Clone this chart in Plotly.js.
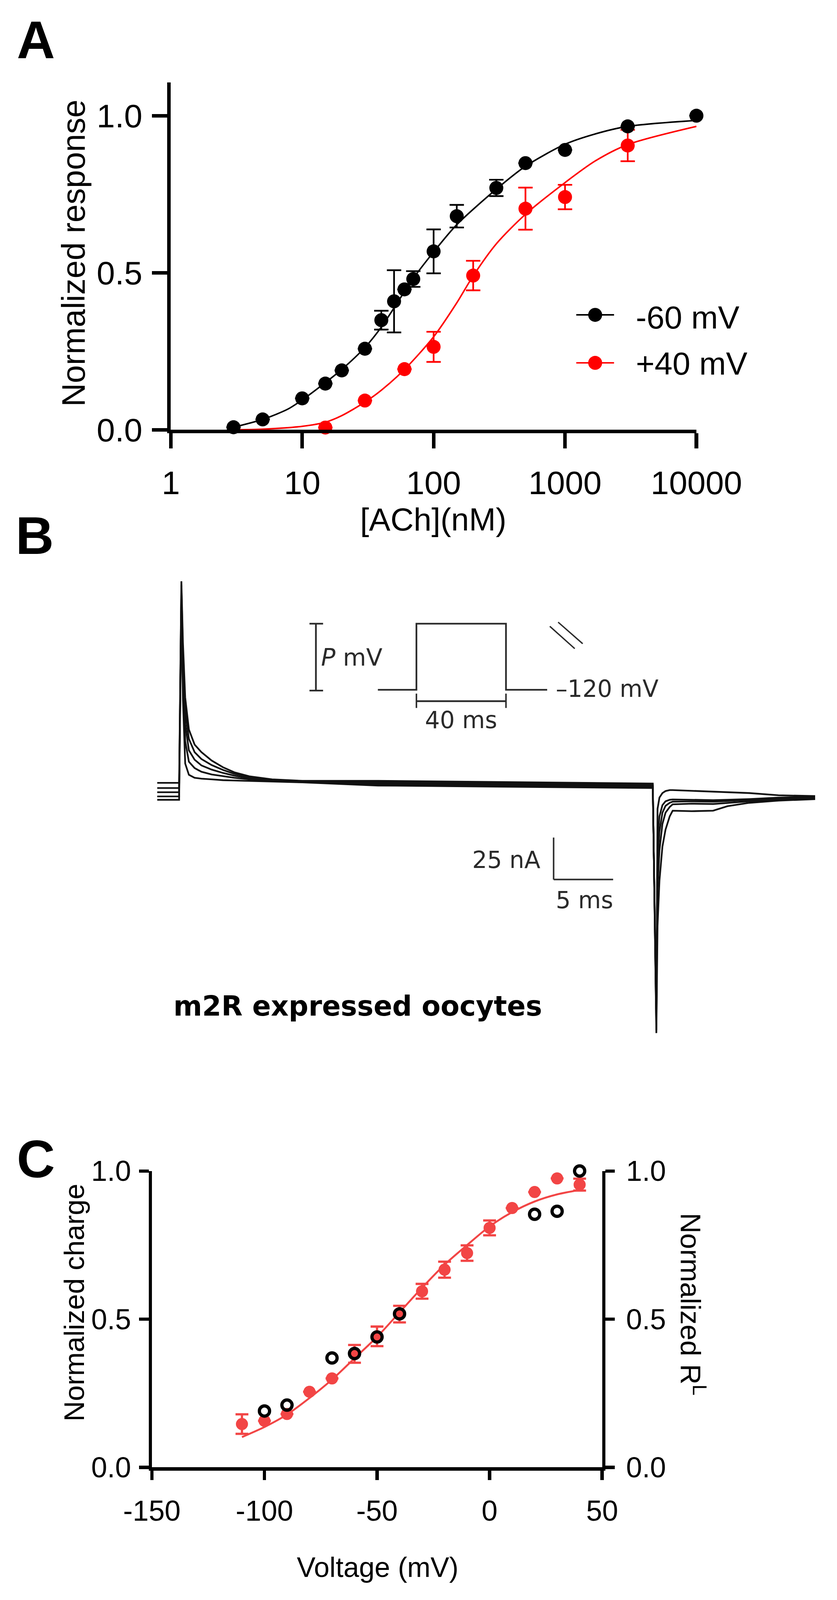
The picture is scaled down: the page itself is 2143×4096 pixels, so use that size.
<!DOCTYPE html>
<html><head><meta charset="utf-8">
<script src="https://cdn.plot.ly/plotly-3.0.1.min.js"></script>
<style>html,body{margin:0;padding:0;background:#fff;}#chart{width:2143px;height:4096px;}</style>
</head><body><div id="chart"></div>
<script>
// ================= DATA =================
// Panel A : concentration-response
const achConcM60 = [3, 5, 10, 15, 20, 30, 40, 50, 60, 70, 100, 150, 300, 500, 1000, 3000, 10000];
const respM60    = [0.008, 0.033, 0.100, 0.147, 0.189, 0.258, 0.349, 0.409, 0.447, 0.480, 0.568, 0.680, 0.770, 0.849, 0.891, 0.966, 1.000];
const errM60     = [null, null, null, null, null, null, 0.030, 0.099, null, 0.025, 0.070, 0.036, 0.026, null, null, null, null];
const achConcP40 = [3, 15, 30, 60, 100, 200, 500, 1000, 3000];
const respP40    = [-0.003, 0.007, 0.093, 0.193, 0.264, 0.491, 0.704, 0.741, 0.905];
const errP40     = [null, null, null, null, 0.048, 0.047, 0.067, 0.039, 0.050];
const fitConcM60 = [3, 5, 7.8, 10, 15, 20, 30, 40, 70, 100, 150, 300, 500, 1000, 1700, 3000, 10000];
const fitRespM60 = [0.008, 0.033, 0.066, 0.095, 0.150, 0.192, 0.262, 0.327, 0.482, 0.566, 0.653, 0.766, 0.839, 0.909, 0.942, 0.966, 0.985];
const fitConcP40 = [3, 5, 10, 15, 20, 30, 40, 60, 100, 150, 200, 300, 500, 1000, 1700, 3000, 10000];
const fitRespP40 = [0.000, 0.002, 0.011, 0.024, 0.045, 0.088, 0.126, 0.192, 0.296, 0.404, 0.490, 0.592, 0.686, 0.787, 0.856, 0.908, 0.966];
const seriesNamesA = ['-60 mV', '+40 mV'];
const xTickValsA = [1, 10, 100, 1000, 10000];
const xTickTextA = ['1', '10', '100', '1000', '10000'];
const yTickValsA = [0, 0.5, 1];
const yTickTextA = ['0.0', '0.5', '1.0'];

// Panel B : current traces (time in ms, current in nA)
const traceTimeMs = [-2.03, -0.19, 0, 0.13, 0.32, 0.63, 1.11, 1.68, 2.54, 3.49, 4.44, 5.71, 7.62, 10.16, 16.5, 26.0, 35.6, 39.6, 39.9, 40.0, 40.16, 40.41, 40.67, 41.02, 41.27, 42.86, 44.67, 45.87, 47.71, 50.16, 53.24];
const traceCurrent1 = [0.2, 0.2, 120.3, 83.8, 51.1, 32.0, 23.0, 18.5, 13.5, 9.5, 6.5, 4.1, 2.3, 1.4, 1.4, 0.7, 0.0, -0.2, -148.9, -85.1, -58.1, -37.8, -27.7, -19.8, -16.4, -16.7, -16.4, -13.7, -11.7, -10.4, -9.5];
const traceCurrent2 = [-2.9, -2.9, 118.0, 77.0, 43.2, 26.4, 18.5, 14.4, 10.8, 7.9, 5.6, 3.6, 2.0, 1.1, 0.7, 0.0, -0.7, -0.9, -147.1, -62.6, -40.1, -24.3, -17.6, -14.2, -12.6, -12.2, -12.4, -11.7, -10.8, -9.9, -9.0];
const traceCurrent3 = [-5.4, -5.4, 115.0, 70.3, 35.4, 19.6, 14.0, 10.6, 8.1, 6.1, 4.5, 2.9, 1.6, 0.9, 0.0, -0.7, -1.4, -1.6, -144.8, -46.8, -28.8, -17.6, -13.5, -11.7, -11.0, -10.8, -11.0, -10.6, -10.1, -9.2, -8.6];
const traceCurrent4 = [-7.9, -7.9, 112.0, 61.3, 25.2, 12.8, 9.0, 6.8, 5.2, 4.1, 3.2, 2.3, 1.4, 0.7, -0.7, -1.4, -2.0, -2.3, -141.4, -33.3, -19.8, -13.1, -10.8, -9.9, -9.7, -9.9, -10.1, -9.9, -9.5, -8.6, -8.1];
const traceCurrent5 = [-9.9, -9.9, 108.0, 50.0, 11.7, 5.0, 3.2, 2.7, 2.3, 1.8, 1.6, 1.4, 0.9, 0.5, -1.4, -2.0, -2.7, -2.9, -139.2, -15.3, -8.6, -5.9, -4.7, -4.1, -4.1, -4.5, -5.0, -5.4, -5.9, -7.2, -7.7];
const scaleBarCurrentNA = 25;
const scaleBarTimeMs = 5;

// Panel C : voltage dependence
const voltCharge = [-110, -100, -90, -80, -70, -60, -50, -40, -30, -20, -10, 0, 10, 20, 30, 40];
const normCharge = [0.146, 0.157, 0.180, 0.255, 0.300, 0.383, 0.442, 0.517, 0.594, 0.667, 0.723, 0.808, 0.875, 0.929, 0.975, 0.954];
const errCharge  = [0.033, null, null, null, null, 0.030, 0.033, 0.028, 0.025, 0.027, 0.026, 0.025, null, null, null, 0.020];
const voltRL = [-100, -90, -70, -60, -50, -40, 20, 30, 40];
const normRL = [0.190, 0.210, 0.369, 0.384, 0.440, 0.518, 0.854, 0.864, 1.000];
const fitVolt   = [-110, -100, -90, -80, -70, -60, -50, -40, -30, -20, -10, 0, 10, 20, 30, 40];
const fitCharge = [0.102, 0.136, 0.178, 0.234, 0.296, 0.368, 0.440, 0.523, 0.606, 0.684, 0.750, 0.813, 0.861, 0.897, 0.921, 0.936];
const xTickValsC = [-150, -100, -50, 0, 50];
const xTickTextC = ['-150', '-100', '-50', '0', '50'];
const yTickValsC = [0, 0.5, 1];
const yTickTextC = ['0.0', '0.5', '1.0'];

// ================= LAYOUT HELPERS =================
const W = 2215, H = 4233, S = 2143 / 2215;
const px = x => x / W;
const py = y => 1 - y / H;
const FONT = '"Liberation Sans", Arial, Helvetica, sans-serif';
const BFONT = '"DejaVu Sans", Verdana, sans-serif';
const RED_A = '#ff0000';
const RED_C = '#f24545';
const INK = '#2a2a2a';

function axis(extra) {
  return Object.assign({
    showline: true, linecolor: '#000', showgrid: false, zeroline: false,
    ticks: 'outside', tickcolor: '#000', fixedrange: true
  }, extra);
}
const axA = { linewidth: 9.5 * S, tickwidth: 9.5 * S, ticklen: 40 * S, tickfont: { family: FONT, size: 87 * S, color: '#000' } };
const axC = { linewidth: 8.7 * S, tickwidth: 8.7 * S, ticklen: 25 * S, tickfont: { family: FONT, size: 76 * S, color: '#000' } };

// ================= TRACES =================
const traces = [];
// Panel A
traces.push({ x: fitConcP40, y: fitRespP40, xaxis: 'x', yaxis: 'y', mode: 'lines', line: { color: RED_A, width: 4 * S, shape: 'spline', smoothing: 0.8 }, cliponaxis: false, showlegend: false, hoverinfo: 'skip' });
traces.push({ x: achConcP40, y: respP40, xaxis: 'x', yaxis: 'y', mode: 'markers', name: seriesNamesA[1],
  marker: { color: RED_A, size: 37 * S, line: { width: 0 } },
  error_y: { type: 'data', array: errP40, visible: true, color: RED_A, thickness: 4.5 * S, width: 19 * S }, cliponaxis: false, showlegend: false });
traces.push({ x: fitConcM60, y: fitRespM60, xaxis: 'x', yaxis: 'y', mode: 'lines', line: { color: '#000', width: 4 * S, shape: 'spline', smoothing: 0.8 }, cliponaxis: false, showlegend: false, hoverinfo: 'skip' });
traces.push({ x: achConcM60, y: respM60, xaxis: 'x', yaxis: 'y', mode: 'markers', name: seriesNamesA[0],
  marker: { color: '#000', size: 37 * S, line: { width: 0 } },
  error_y: { type: 'data', array: errM60, visible: true, color: '#000', thickness: 4.5 * S, width: 19 * S }, cliponaxis: false, showlegend: false });

// Panel B
[traceCurrent1, traceCurrent2, traceCurrent3, traceCurrent4, traceCurrent5].forEach(c => {
  traces.push({ x: traceTimeMs, y: c, xaxis: 'x2', yaxis: 'y2', mode: 'lines', line: { color: '#111', width: 4.5 * S }, cliponaxis: false, showlegend: false, hoverinfo: 'skip' });
});

// Panel C
traces.push({ x: fitVolt, y: fitCharge, xaxis: 'x3', yaxis: 'y3', mode: 'lines', line: { color: RED_C, width: 5 * S, shape: 'spline', smoothing: 0.8 }, cliponaxis: false, showlegend: false, hoverinfo: 'skip' });
traces.push({ x: voltCharge, y: normCharge, xaxis: 'x3', yaxis: 'y3', mode: 'markers', name: 'Normalized charge',
  marker: { color: RED_C, size: 32 * S, line: { width: 0 } },
  error_y: { type: 'data', array: errCharge, visible: true, color: RED_C, thickness: 6 * S, width: 17 * S }, cliponaxis: false, showlegend: false });
traces.push({ x: voltRL, y: normRL, xaxis: 'x3', yaxis: 'y4', mode: 'markers', name: 'Normalized RL',
  marker: { symbol: 'circle-open', color: '#000', size: 27 * S, line: { color: '#000', width: 8.5 * S } }, cliponaxis: false, showlegend: false });

// ================= SHAPES =================
const shapes = [];
function pline(x0, y0, x1, y1, color, width) {
  shapes.push({ type: 'line', xref: 'paper', yref: 'paper', x0: px(x0), y0: py(y0), x1: px(x1), y1: py(y1), line: { color: color, width: width * S } });
}
// Legend A (drawn manually)
pline(1525, 833, 1625, 833, '#000', 4);
pline(1525, 960, 1625, 960, RED_A, 4);
shapes.push({ type: 'circle', xref: 'paper', yref: 'paper', x0: px(1556.5), x1: px(1593.5), y0: py(851.5), y1: py(814.5), fillcolor: '#000', line: { width: 0 } });
shapes.push({ type: 'circle', xref: 'paper', yref: 'paper', x0: px(1556.5), x1: px(1593.5), y0: py(978.5), y1: py(941.5), fillcolor: RED_A, line: { width: 0 } });

// Panel B inset: voltage protocol
pline(836, 1650, 836, 1827, INK, 4.5);
pline(819, 1650, 855, 1650, INK, 4.5);
pline(819, 1827, 855, 1827, INK, 4.5);
shapes.push({ type: 'path', xref: 'paper', yref: 'paper',
  path: `M${px(1000)},${py(1825)} L${px(1102)},${py(1825)} L${px(1102)},${py(1650)} L${px(1339)},${py(1650)} L${px(1339)},${py(1825)} L${px(1448)},${py(1825)}`,
  line: { color: INK, width: 4.5 * S } });
pline(1102, 1855, 1339, 1855, INK, 4.5);
pline(1102, 1835, 1102, 1873, INK, 4);
pline(1339, 1835, 1339, 1873, INK, 4);
pline(1455, 1657, 1521, 1716, INK, 3.5);
pline(1477, 1646, 1542, 1703, INK, 3.5);
// Panel B scale bar (in data units)
const sbT0 = 31.27, sbI0 = -57.4;
shapes.push({ type: 'line', xref: 'x2', yref: 'y2', x0: sbT0, x1: sbT0, y0: sbI0, y1: sbI0 + scaleBarCurrentNA, line: { color: INK, width: 4 * S } });
shapes.push({ type: 'line', xref: 'x2', yref: 'y2', x0: sbT0, x1: sbT0 + scaleBarTimeMs, y0: sbI0, y1: sbI0, line: { color: INK, width: 4 * S } });

// ================= ANNOTATIONS =================
const annotations = [];
function ann(text, x, y, size, o) {
  annotations.push(Object.assign({ text: text, xref: 'paper', yref: 'paper', x: px(x), y: py(y), showarrow: false,
    xanchor: 'center', yanchor: 'middle', font: { family: FONT, size: size * S, color: '#000' } }, o || {}));
}
// panel letters
ann('<b>A</b>', 42, 105.5, 140, { xanchor: 'left' });
ann('<b>B</b>', 39, 1416.5, 140, { xanchor: 'left' });
ann('<b>C</b>', 42, 3066, 140, { xanchor: 'left' });
// Panel A titles and legend
ann('Normalized response', 195, 670, 86, { textangle: -90 });
ann('[ACh](nM)', 1147, 1374, 85);
ann(seriesNamesA[0], 1681, 840, 85, { xanchor: 'left' });
ann(seriesNamesA[1], 1681, 962, 85, { xanchor: 'left' });
// Panel B texts
const bfont = sz => ({ family: BFONT, size: sz * S, color: INK });
ann('<i>P</i> mV', 848, 1739, 63, { xanchor: 'left', font: bfont(63) });
ann('–120 mV', 1469, 1822, 62, { xanchor: 'left', font: bfont(62) });
ann('40 ms', 1220, 1905, 62, { font: bfont(62) });
ann('25 nA', 1432, 2275, 62, { xanchor: 'right', font: bfont(62) });
ann('5 ms', 1469, 2381, 62, { xanchor: 'left', font: bfont(62) });
ann('<b>m2R expressed oocytes</b>', 457, 2662, 73, { xanchor: 'left', font: { family: BFONT, size: 73 * S, color: '#000' } });
// Panel C titles
ann('Normalized charge', 196, 3446, 75, { textangle: -90 });
ann('Normalized R<sup>L</sup>', 1834, 3451, 75, { textangle: 90 });
ann('Voltage (mV)', 1000, 4146, 74);

// ================= LAYOUT =================
const layout = {
  width: 2143, height: 4096,
  margin: { l: 0, r: 0, t: 0, b: 0, pad: 0 },
  paper_bgcolor: '#fff', plot_bgcolor: 'rgba(0,0,0,0)',
  showlegend: false,
  xaxis: axis(Object.assign({}, axA, { type: 'log', range: [0, 4], domain: [px(452), px(1843)], anchor: 'y',
    tickmode: 'array', tickvals: xTickValsA, ticktext: xTickTextA, ticklabelstandoff: 16 })),
  yaxis: axis(Object.assign({}, axA, { range: [0, 1.106], domain: [py(1137), py(218)], anchor: 'x',
    tickmode: 'array', tickvals: yTickValsA, ticktext: yTickTextA, ticklabelstandoff: 8 })),
  xaxis2: { domain: [px(400), px(2200)], range: [-2.54, 54.60], visible: false, anchor: 'y2', fixedrange: true },
  yaxis2: { domain: [py(2780), py(1500)], range: [-159.46, 128.83], visible: false, anchor: 'x2', fixedrange: true },
  xaxis3: axis(Object.assign({}, axC, { range: [-150, 50], domain: [px(402), px(1593.5)], anchor: 'y3',
    tickmode: 'array', tickvals: xTickValsC, ticktext: xTickTextC, ticklabelstandoff: 16 })),
  yaxis3: axis(Object.assign({}, axC, { range: [0, 1], domain: [py(3882), py(3098)], anchor: 'x3',
    tickmode: 'array', tickvals: yTickValsC, ticktext: yTickTextC, ticklabelstandoff: 6 })),
  yaxis4: axis(Object.assign({}, axC, { range: [0, 1], overlaying: 'y3', side: 'right', anchor: 'x3',
    tickmode: 'array', tickvals: yTickValsC, ticktext: yTickTextC, ticklabelstandoff: 14 })),
  shapes: shapes,
  annotations: annotations
};

Plotly.newPlot('chart', traces, layout, { displayModeBar: false, staticPlot: true });
</script>
</body></html>
